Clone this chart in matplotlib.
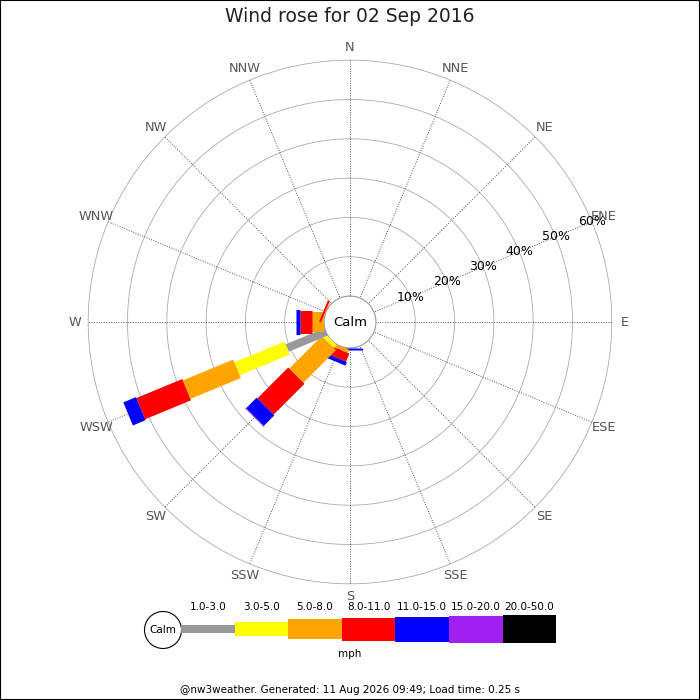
import numpy as np
import matplotlib
matplotlib.use("Agg")
import matplotlib.pyplot as plt
from matplotlib.patches import Rectangle, Circle

# 16 compass sectors, clockwise from N
directions = ['N', 'NNE', 'NE', 'ENE', 'E', 'ESE', 'SE', 'SSE',
              'S', 'SSW', 'SW', 'WSW', 'W', 'WNW', 'NW', 'NNW']
speed_bins = ['1.0-3.0', '3.0-5.0', '5.0-8.0', '8.0-11.0',
              '11.0-15.0', '15.0-20.0', '20.0-50.0']
bin_colors = ['#999999', '#ffff00', '#ffa500', '#ff0000',
              '#0000ff', '#a020f0', '#000000']
bin_widths = [8, 14, 20, 23, 25, 27, 28]  # bar thickness in px

# % of time per direction, one value per speed bin
freq = {
    'S':   [0, 0, 0, 0, 0.4, 0, 0],
    'SSW': [0, 0, 0.9, 2.2, 1.0, 0, 0],
    'SW':  [0, 1.0, 11.7, 11.1, 3.8, 0.2, 0],
    'WSW': [10.7, 13.8, 13.9, 12.6, 3.5, 0, 0],
    'W':   [0, 0, 3.1, 3.0, 1.0, 0, 0],
    'WNW': [0, 0, 0.2, 0.5, 0, 0, 0],
}
rings = [10, 20, 30, 40, 50, 60]
title = 'Wind rose for 02 Sep 2016'
footer = '@nw3weather. Generated: 11 Aug 2026 09:49; Load time: 0.25 s'

calm_r = 6.6   # hole in the middle, in % units
rmax = 60

fig = plt.figure(figsize=(7, 7), dpi=100)
rad = 263 / 700
ax = fig.add_axes([0.5 - rad, 0.54 - rad, 2 * rad, 2 * rad], projection='polar')
ax.set_theta_zero_location('N')
ax.set_theta_direction(-1)
ax.set_ylim(0, rmax + 0.3)
ax.set_rorigin(-calm_r)
ax.grid(False)
ax.set_xticks([])
ax.set_yticks([])
for s in ax.spines.values():
    s.set_visible(False)
# polar axes always redraws the inner circle when there is a hole -> style it as the calm ring
ax.spines['inner'].set_edgecolor('#999999')
ax.spines['inner'].set_linewidth(0.8)
ax.spines['inner'].set_zorder(2)

th_full = np.linspace(0, 2 * np.pi, 400)
for r in rings:
    ax.plot(th_full, np.full_like(th_full, r), color='#aaaaaa', lw=0.6, zorder=1)

angles = np.deg2rad(np.arange(16) * 22.5)
for th, name in zip(angles, directions):
    ax.plot([th, th], [0.3, rmax], color='#555555', lw=0.7,
            linestyle=(0, (1, 1.5)), zorder=1)
    ax.text(th, 63.3, name, ha='center', va='center', fontsize=9.3, color='#555555')

# percent labels along ENE spoke
ene = np.deg2rad(67.5)
for r in rings:
    ax.text(ene, r, f'{r}%', ha='center', va='center', fontsize=9, color='black', zorder=5)

# stacked bars
for name, vals in freq.items():
    th = angles[directions.index(name)]
    start = 0
    for v, c, w in zip(vals, bin_colors, bin_widths):
        if v > 0:
            ax.plot([th, th], [start, start + v], color=c, lw=w * 0.72,
                    solid_capstyle='butt', zorder=3)
        start += v

ax.text(0, -calm_r, 'Calm', ha='center', va='center', fontsize=9.5, zorder=6)

# overlay for title, legend and footer (pixel coords)
lax = fig.add_axes([0, 0, 1, 1])
lax.set_xlim(0, 700)
lax.set_ylim(700, 0)
lax.axis('off')

lax.text(350, 17, title, ha='center', va='center', fontsize=13.5, color='#222222')

lax.add_patch(Circle((163, 630), 18.5, fill=False, ec='black', lw=0.8))
lax.text(163, 630, 'Calm', ha='center', va='center', fontsize=7.5)
x0, seg = 181, 53.6
for i, (lab, c, h) in enumerate(zip(speed_bins, bin_colors, bin_widths)):
    x = x0 + i * seg
    lax.add_patch(Rectangle((x, 629 - h / 2), seg, h, color=c, lw=0))
    lax.text(x + seg / 2, 607, lab, ha='center', va='center', fontsize=7.5)
lax.text(350, 654, 'mph', ha='center', va='center', fontsize=7.5)
lax.text(350, 690, footer, ha='center', va='center', fontsize=7.5)

fig.add_artist(Rectangle((0, 0), 1, 1, transform=fig.transFigure,
                         fill=False, ec='black', lw=1.5))

fig.savefig('out.png', dpi=100)
